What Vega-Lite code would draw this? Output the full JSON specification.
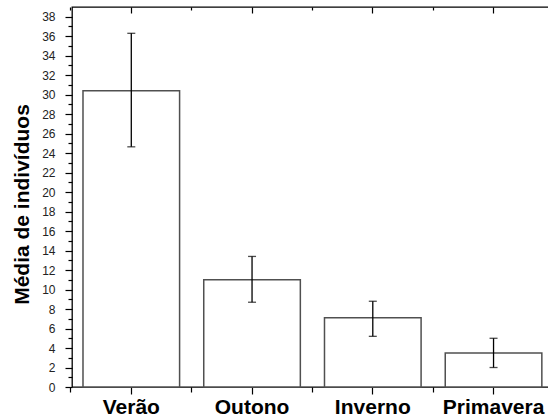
{
  "$schema": "https://vega.github.io/schema/vega-lite/v6.json",
  "width": 478,
  "height": 380,
  "autosize": {"type": "none"},
  "padding": {"left": 72, "top": 7, "right": 0, "bottom": 32},
  "background": "white",
  "config": {
    "view": {"stroke": "#000000", "strokeWidth": 1.3},
    "font": "Liberation Sans",
    "axis": {"grid": false, "domain": false, "tickColor": "#000000", "tickWidth": 1.2, "labelFont": "Liberation Sans", "titleFont": "Liberation Sans"}
  },
  "data": {
    "values": [
      {"season": "Verão", "mean": 30.4, "low": 24.65, "high": 36.3},
      {"season": "Outono", "mean": 11.0, "low": 8.7, "high": 13.4},
      {"season": "Inverno", "mean": 7.1, "low": 5.2, "high": 8.8},
      {"season": "Primavera", "mean": 3.5, "low": 2.0, "high": 5.0}
    ]
  },
  "resolve": {"axis": {"x": "independent", "y": "independent"}, "scale": {"x": "shared", "y": "shared"}},
  "layer": [
    {
      "mark": {"type": "bar", "fill": "#ffffff", "stroke": "#505050", "strokeWidth": 1.5},
      "encoding": {
        "x": {
          "field": "season",
          "type": "nominal",
          "sort": ["Verão", "Outono", "Inverno", "Primavera"],
          "scale": {"paddingInner": 0.2, "paddingOuter": 0.0793, "align": 0.574},
          "axis": {"orient": "bottom", "title": null, "labelAngle": 0, "tickSize": 7, "labelPadding": 2, "labelFontSize": 21, "labelFontWeight": "bold", "labelColor": "#000000"}
        },
        "y": {
          "field": "mean",
          "type": "quantitative",
          "scale": {"domain": [0, 39], "nice": false},
          "axis": {
            "orient": "left",
            "title": "Média de indivíduos",
            "values": [0,1,2,3,4,5,6,7,8,9,10,11,12,13,14,15,16,17,18,19,20,21,22,23,24,25,26,27,28,29,30,31,32,33,34,35,36,37,38],
            "labelExpr": "datum.value % 2 === 0 ? datum.label : ''",
            "tickSize": {"condition": {"test": "datum.value % 2 === 0", "value": 7}, "value": 4},
            "labelPadding": 10,
            "labelFontSize": 12,
            "labelColor": "#222222",
            "titleFontSize": 21,
            "titleFontWeight": "bold",
            "titleColor": "#000000",
            "titleX": -44,
            "titleY": 197,
            "titleBaseline": "alphabetic"
          }
        }
      }
    },
    {
      "mark": {"type": "rule", "color": "#000000", "strokeWidth": 1.3},
      "encoding": {
        "x": {
          "field": "season",
          "type": "nominal",
          "sort": ["Verão", "Outono", "Inverno", "Primavera"],
          "axis": {"orient": "bottom", "title": null, "labels": false, "tickSize": 5, "bandPosition": -0.125}
        },
        "y": {"field": "low", "type": "quantitative", "axis": null},
        "y2": {"field": "high"}
      }
    },
    {
      "mark": {"type": "tick", "color": "#000000", "size": 8, "thickness": 1.3},
      "encoding": {
        "x": {
          "field": "season",
          "type": "nominal",
          "sort": ["Verão", "Outono", "Inverno", "Primavera"],
          "axis": {"orient": "top", "title": null, "labels": false, "tickSize": -6}
        },
        "y": {"field": "low", "type": "quantitative", "axis": null}
      }
    },
    {
      "mark": {"type": "tick", "color": "#000000", "size": 8, "thickness": 1.3},
      "encoding": {
        "x": {
          "field": "season",
          "type": "nominal",
          "sort": ["Verão", "Outono", "Inverno", "Primavera"],
          "axis": {"orient": "top", "title": null, "labels": false, "tickSize": -3, "bandPosition": -0.125}
        },
        "y": {"field": "high", "type": "quantitative", "axis": null}
      }
    }
  ]
}
